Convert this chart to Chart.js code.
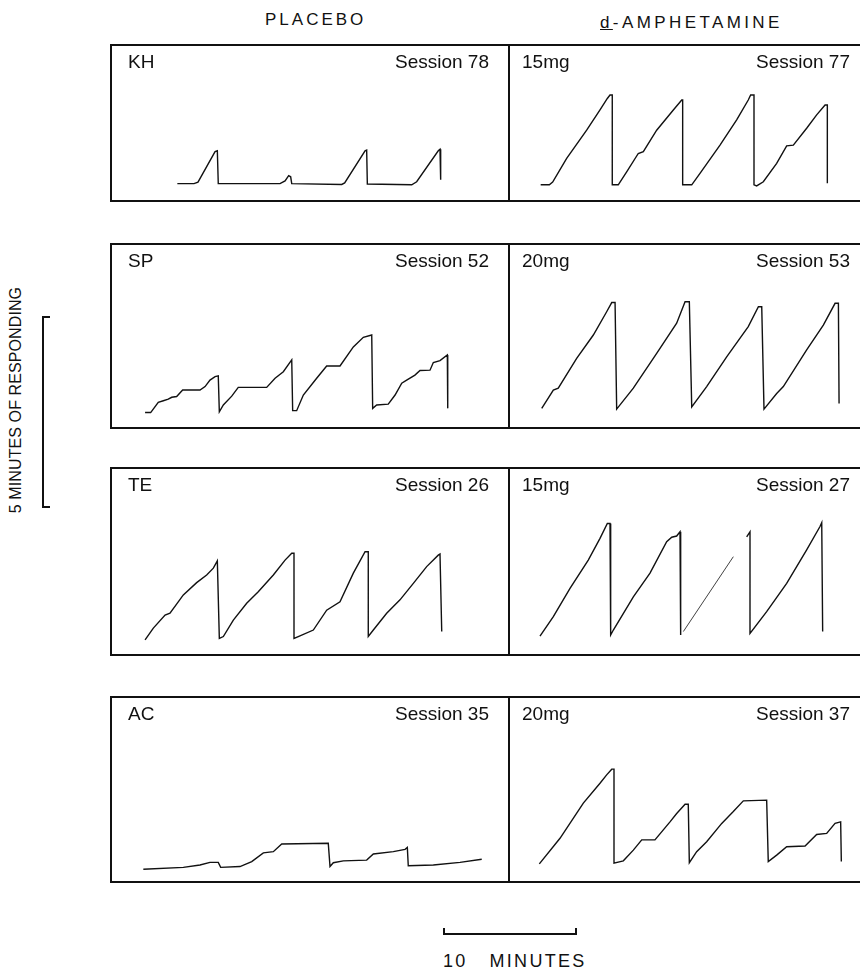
<!DOCTYPE html>
<html>
<head>
<meta charset="utf-8">
<script src="https://cdn.jsdelivr.net/npm/chart.js@4"></script>
<style>
  body { margin: 0; background: #fff; }
  #page { position: relative; width: 860px; height: 969px; overflow: hidden;
          font-family: "Liberation Sans", Arial, sans-serif; color: #111; }
  #page canvas { position: absolute; }
  .frame { position: absolute; box-sizing: border-box; border: 2px solid #111; pointer-events: none; }
  .frame.right { border-left: none; border-right: none; }
  .head { position: absolute; font-size: 17px; line-height: 17px; white-space: pre; }
  .ylab { position: absolute; left: -104px; top: 390px; width: 240px; height: 20px; line-height: 20px;
          font-size: 16px; letter-spacing: 0.1px; text-align: center; transform: rotate(-90deg); }
  .bracket { position: absolute; box-sizing: border-box; border: 2px solid #111; border-right: none; }
  .tbar { position: absolute; box-sizing: border-box; border: 2px solid #111; border-top: none; }
  .tlab { position: absolute; font-size: 18px; line-height: 18px; letter-spacing: 2.3px; white-space: pre; }
</style>
</head>
<body>
<div id="page">
  <div class="head" style="left:265px;top:11px;letter-spacing:3px;">PLACEBO</div>
  <div class="head" style="left:600px;top:14px;letter-spacing:3.4px;"><u>d</u>-AMPHETAMINE</div>
  <div class="ylab">5 MINUTES OF RESPONDING</div>
  <div class="bracket" style="left:42px;top:316px;width:8px;height:192px;"></div>
  <div class="tbar" style="left:443px;top:928px;width:134px;height:7px;"></div>
  <div class="tlab" style="left:443px;top:952px;">10   MINUTES</div>
</div>
<script>
// cumulative records: [time (min), cumulative responding (min)]
const subjects = ['KH', 'SP', 'TE', 'AC'];
const placeboSessions = [78, 52, 26, 35];
const doses = ['15mg', '20mg', '15mg', '20mg'];
const drugSessions = [77, 53, 27, 37];

const khPlacebo = [[5.05,0.48],[6.3,0.48],[6.6,0.52],[7.88,1.32],[8.05,1.34],[8.12,0.48],[12.75,0.48],[13.13,0.55],[13.4,0.69],[13.55,0.66],[13.63,0.48],[17.38,0.46],[17.6,0.5],[19.13,1.34],[19.25,1.36],[19.3,0.47],[22.63,0.45],[23.0,0.53],[24.62,1.34],[24.75,1.38],[24.8,0.58]];
const khDrug = [[2.3,0.45],[2.95,0.45],[3.2,0.52],[4.25,1.14],[5.75,1.88],[6.75,2.41],[7.3,2.71],[7.5,2.80],[7.67,2.80],[7.67,0.45],[8.12,0.45],[8.75,0.79],[9.62,1.27],[10.0,1.32],[11.0,1.88],[12.25,2.41],[12.88,2.67],[12.95,2.67],[12.95,0.45],[13.63,0.45],[14.25,0.75],[15.75,1.49],[17.0,2.15],[17.87,2.67],[18.05,2.80],[18.3,2.80],[18.3,0.45],[18.5,0.42],[19.0,0.53],[20.0,1.01],[20.75,1.47],[21.25,1.49],[22.25,1.93],[23.0,2.28],[23.63,2.54],[23.8,2.54],[23.8,0.49]];
const spPlacebo = [[2.63,0.43],[3.05,0.43],[3.62,0.70],[4.0,0.74],[4.37,0.78],[4.63,0.83],[5.0,0.85],[5.45,1.02],[6.75,1.02],[7.13,1.11],[7.5,1.28],[7.88,1.37],[8.12,1.39],[8.2,0.45],[8.5,0.63],[9.13,0.86],[9.62,1.09],[11.75,1.09],[12.38,1.33],[13.0,1.5],[13.63,1.81],[13.7,0.48],[14.0,0.48],[14.5,0.89],[15.5,1.33],[16.25,1.65],[17.25,1.65],[18.25,2.15],[19.0,2.40],[19.63,2.46],[19.7,0.54],[20.0,0.63],[20.87,0.65],[21.38,0.89],[21.88,1.20],[22.25,1.28],[22.87,1.41],[23.25,1.53],[24.0,1.54],[24.25,1.74],[24.75,1.79],[25.3,1.94],[25.33,0.54]];
const spDrug = [[2.38,0.54],[3.25,1.02],[3.62,1.07],[5.0,1.85],[6.25,2.46],[7.25,3.07],[7.63,3.31],[7.88,3.31],[8.0,0.52],[9.25,1.07],[11.0,1.98],[12.5,2.77],[13.13,3.33],[13.45,3.33],[13.63,0.58],[14.75,1.11],[16.25,1.89],[17.87,2.68],[18.63,3.20],[18.88,3.20],[19.05,0.52],[20.0,0.93],[20.5,1.11],[22.25,2.07],[23.5,2.72],[24.38,3.29],[24.63,3.29],[24.68,0.67]];
const tePlacebo = [[2.63,0.42],[3.25,0.73],[4.13,1.07],[4.5,1.12],[5.5,1.60],[6.5,1.92],[7.25,2.12],[7.75,2.30],[8.05,2.49],[8.2,0.46],[8.5,0.51],[9.25,0.94],[10.25,1.38],[11.12,1.68],[12.25,2.12],[13.13,2.51],[13.63,2.69],[13.8,2.69],[13.8,0.46],[14.12,0.51],[15.25,0.68],[16.25,1.20],[17.25,1.42],[18.25,2.17],[19.13,2.73],[19.37,2.73],[19.37,0.51],[19.75,0.68],[20.75,1.12],[21.75,1.47],[22.75,1.90],[23.75,2.34],[24.62,2.64],[24.75,2.67],[24.88,0.64]];
const teDrug = [[2.25,0.52],[3.25,1.03],[4.5,1.77],[5.87,2.51],[6.75,3.08],[7.3,3.47],[7.5,3.47],[7.55,0.55],[7.75,0.68],[9.25,1.55],[10.5,2.17],[11.75,2.99],[12.13,3.11],[12.5,3.14],[12.75,3.25],[12.8,0.55],[15,null],[17.75,3.12],[18.0,3.25],[18.0,0.59],[19.25,1.16],[20.75,1.90],[22.25,2.78],[23.25,3.39],[23.38,3.49],[23.45,0.64]];
const teDrugFaint = [[13.0,0.64],[16.75,2.60]];
const acPlacebo = [[2.5,0.36],[5.5,0.41],[6.75,0.47],[7.5,0.54],[8.12,0.54],[8.3,0.41],[9.75,0.43],[10.63,0.56],[11.5,0.79],[12.25,0.82],[12.88,1.02],[16.37,1.04],[16.5,0.43],[16.75,0.53],[17.5,0.58],[19.25,0.60],[19.75,0.76],[21.25,0.82],[22.13,0.88],[22.3,0.93],[22.37,0.45],[24.25,0.47],[26.25,0.54],[27.88,0.62]];
const acDrug = [[2.2,0.50],[3.75,1.17],[5.5,2.09],[6.75,2.61],[7.25,2.83],[7.63,2.98],[7.8,2.98],[7.8,0.52],[8.5,0.58],[9.25,0.86],[9.88,1.13],[10.87,1.13],[12.0,1.60],[12.5,1.82],[13.13,2.06],[13.37,2.06],[13.45,0.53],[14.0,0.82],[14.75,1.08],[15.88,1.56],[16.75,1.87],[17.5,2.15],[19.25,2.17],[19.37,0.56],[20.0,0.73],[20.75,0.95],[22.13,0.97],[23.0,1.27],[23.75,1.30],[24.38,1.56],[24.8,1.60],[24.85,0.56]];

const placeboRecords = [khPlacebo, spPlacebo, tePlacebo, acPlacebo];
const drugRecords = [khDrug, spDrug, teDrug, acDrug];
const faintRecords = [[], [], teDrugFaint, []];

// layout
const rowTop = [44, 243, 467, 696];
const rowH = [158, 186, 189, 187];
const pxPerMin = 400 / 30;      // 10 min = 133 px
const pxPerRespMin = 191 / 5;   // 5 min of responding = 191 px

const labelPlugin = {
    id: 'panelLabels',
    afterDraw(chart, args, opts) {
        const ctx = chart.ctx, a = chart.chartArea;
        ctx.save();
        ctx.fillStyle = '#111';
        ctx.font = '19px "Liberation Sans", Arial, sans-serif';
        ctx.textBaseline = 'alphabetic';
        ctx.textAlign = 'left';
        ctx.fillText(opts.left, a.left + opts.padL, a.top + 24);
        ctx.textAlign = 'right';
        ctx.fillText(opts.right, a.right - opts.padR, a.top + 24);
        ctx.restore();
    }
};

const page = document.getElementById('page');

function toPts(rec) {
    return rec.map(p => ({x: p[0], y: p[1]}));
}

function panel(left, top, w, h, datasets, lab, isRight) {
    const cv = document.createElement('canvas');
    cv.width = w; cv.height = h;
    cv.style.left = left + 'px'; cv.style.top = top + 'px';
    cv.style.width = w + 'px'; cv.style.height = h + 'px';
    page.appendChild(cv);
    const fr = document.createElement('div');
    fr.className = 'frame' + (isRight ? ' right' : '');
    fr.style.left = left + 'px'; fr.style.top = top + 'px';
    fr.style.width = w + 'px'; fr.style.height = h + 'px';
    page.appendChild(fr);

    new Chart(cv, {
        type: 'line',
        data: {datasets: datasets},
        options: {
            responsive: false,
            animation: false,
            layout: {padding: 0},
            spanGaps: false,
            plugins: {
                legend: {display: false},
                tooltip: {enabled: false},
                panelLabels: lab
            },
            scales: {
                x: {type: 'linear', min: 0, max: w / pxPerMin, display: false},
                y: {min: 0, max: h / pxPerRespMin, display: false}
            }
        },
        plugins: [labelPlugin]
    });
}

function trace(rec, width) {
    return {
        data: toPts(rec),
        borderColor: '#111',
        borderWidth: width,
        pointRadius: 0,
        tension: 0,
        fill: false
    };
}

for (let i = 0; i < subjects.length; i++) {
    panel(110, rowTop[i], 400, rowH[i], [trace(placeboRecords[i], 1.4)],
        {left: subjects[i], right: 'Session ' + placeboSessions[i], padL: 18, padR: 21}, false);
    const ds = [trace(drugRecords[i], 1.4)];
    if (faintRecords[i].length) ds.push(trace(faintRecords[i], 0.8));
    panel(510, rowTop[i], 350, rowH[i], ds,
        {left: doses[i], right: 'Session ' + drugSessions[i], padL: 12, padR: 10}, true);
}
</script>
</body>
</html>
